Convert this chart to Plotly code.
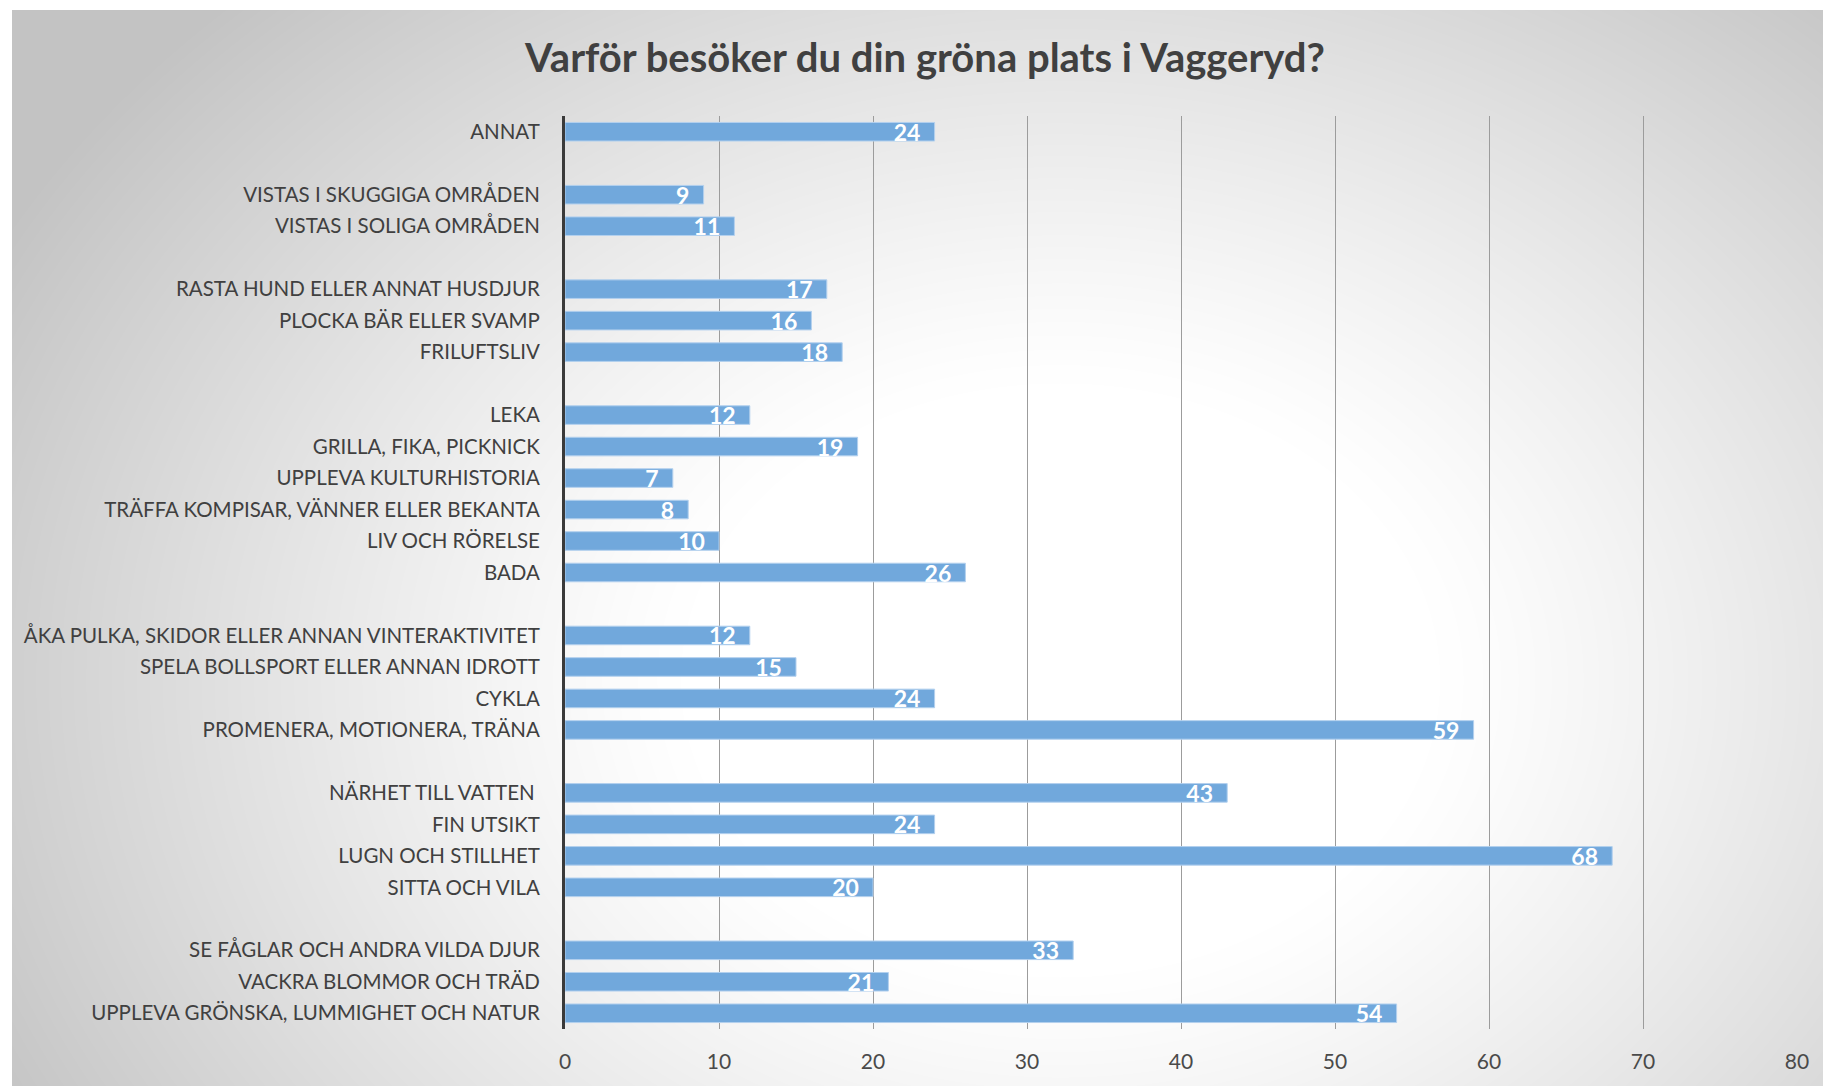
import base64, struct, zlib
import numpy as np
import plotly.graph_objects as go

# ---- data (top to bottom; blank entries are group gaps) ----
categories = [
    "ANNAT", " ",
    "VISTAS I SKUGGIGA OMRÅDEN", "VISTAS I SOLIGA OMRÅDEN", "  ",
    "RASTA HUND ELLER ANNAT HUSDJUR", "PLOCKA BÄR ELLER SVAMP", "FRILUFTSLIV", "   ",
    "LEKA", "GRILLA, FIKA, PICKNICK", "UPPLEVA KULTURHISTORIA",
    "TRÄFFA KOMPISAR, VÄNNER ELLER BEKANTA", "LIV OCH RÖRELSE", "BADA", "    ",
    "ÅKA PULKA, SKIDOR ELLER ANNAN VINTERAKTIVITET", "SPELA BOLLSPORT ELLER ANNAN IDROTT",
    "CYKLA", "PROMENERA, MOTIONERA, TRÄNA", "     ",
    "NÄRHET TILL VATTEN\u00a0", "FIN UTSIKT", "LUGN OCH STILLHET", "SITTA OCH VILA", "      ",
    "SE FÅGLAR OCH ANDRA VILDA DJUR", "VACKRA BLOMMOR OCH TRÄD", "UPPLEVA GRÖNSKA, LUMMIGHET OCH NATUR",
]
values = [
    24, None,
    9, 11, None,
    17, 16, 18, None,
    12, 19, 7, 8, 10, 26, None,
    12, 15, 24, 59, None,
    43, 24, 68, 20, None,
    33, 21, 54,
]
x_ticks = [0, 10, 20, 30, 40, 50, 60, 70, 80]
title_text = "Varför besöker du din gröna plats i Vaggeryd?"

# ---- background: radial grey gradient rendered as PNG ----
W, H = 1823, 1086
yy, xx = np.mgrid[0:H, 0:W].astype(float)
cx, cy, ax, ay = 1060.0, 680.0, 1150.0, 900.0
r = np.sqrt(((xx - cx) / ax) ** 2 + ((yy - cy) / ay) ** 2)
t = np.clip((r - 0.33) / 0.72, 0, 1) ** 1.15
img = 255 - 60 * t
img[:10, :] = 255
img[:, :12] = 255
img = img.astype(np.uint8)

def png_bytes(a):
    h, w = a.shape
    raw = b"".join(b"\x00" + a[i].tobytes() for i in range(h))
    def chunk(tag, data):
        c = struct.pack(">I", len(data)) + tag + data
        return c + struct.pack(">I", zlib.crc32(tag + data) & 0xFFFFFFFF)
    return (b"\x89PNG\r\n\x1a\n" + chunk(b"IHDR", struct.pack(">IIBBBBB", w, h, 8, 0, 0, 0, 0))
            + chunk(b"IDAT", zlib.compress(raw, 9)) + chunk(b"IEND", b""))

bg_uri = "data:image/png;base64," + base64.b64encode(png_bytes(img)).decode()

# plot area in pixels
L, R, T, B = 565, 1797, 116, 1029
pw, ph = R - L, B - T

NB = "\u00a0"
texts = ["" if v is None else f"{v}{NB*2}" for v in values]

fig = go.Figure()
fig.add_trace(go.Bar(
    x=values, y=categories, orientation="h",
    marker=dict(color="#71A8DC", line=dict(color="#B3D0EE", width=1)),
    text=texts, textposition="inside", insidetextanchor="end",
    constraintext="none", textangle=0,
    textfont=dict(family="Lato", size=23, color="white", weight="bold"),
    hoverinfo="skip", cliponaxis=False,
))

fig.update_layout(
    width=W, height=H,
    margin=dict(l=L, r=W - R, t=T, b=H - B, pad=0),
    paper_bgcolor="white", plot_bgcolor="rgba(0,0,0,0)",
    bargap=0.41,
    showlegend=False,
    title=dict(text=title_text, x=925 / W, xref="container", xanchor="center",
               y=1 - 58 / H, yref="container", yanchor="middle",
               font=dict(family="Lato", size=40, color="#404040", weight="bold")),
    images=[dict(source=bg_uri, xref="paper", yref="paper",
                 x=-L / pw, y=1 + T / ph, sizex=W / pw, sizey=H / ph,
                 xanchor="left", yanchor="top", sizing="stretch", layer="below")],
)
fig.update_xaxes(range=[0, 80], tickvals=x_ticks, showgrid=True, gridcolor="#9C9C9C",
                 gridwidth=1, zeroline=False, showline=False, ticks="",
                 ticklabelstandoff=18,
                 tickfont=dict(family="Lato", size=21, color="#4A4A4A"))
fig.update_yaxes(categoryorder="array", categoryarray=categories, autorange="reversed",
                 showgrid=False, zeroline=False, showline=True, linecolor="#3A3A3A",
                 linewidth=3, ticks="", ticklabelstandoff=18,
                 tickfont=dict(family="Lato", size=20.5, color="#404040"))

fig.write_html("out.html", config={"displayModeBar": False},
               post_script="document.body.style.margin='0';document.body.style.overflow='hidden';")
